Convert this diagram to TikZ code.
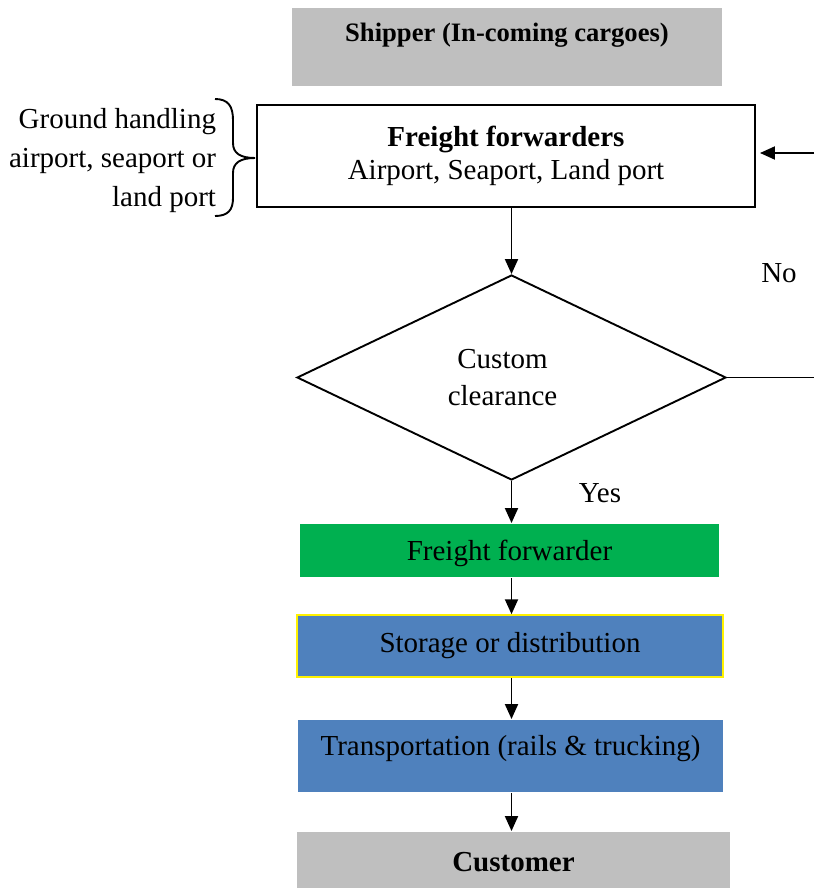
\documentclass[tikz,border=0pt]{standalone}
\usepackage{fontspec}
\setmainfont{Liberation Serif}
\usetikzlibrary{shapes.geometric,arrows.meta}
\definecolor{boxgray}{HTML}{BFBFBF}
\definecolor{boxgreen}{HTML}{00B050}
\definecolor{boxblue}{HTML}{4F81BD}
\begin{document}
\begin{tikzpicture}[x=1pt,y=-1pt,
  every node/.style={font=\fontsize{29}{37}\selectfont},
  line width=1.9pt,
  arr/.style={-{Triangle[length=15pt,width=13pt]}},
  box/.style={rectangle, inner sep=0pt, align=center}]
\useasboundingbox (0,0) rectangle (814,888);

\node[box, fill=boxgray, minimum width=430pt, text height=34pt, text depth=44pt, font=\fontsize{26.6}{32}\selectfont] (ship) at (507,47) {\textbf{Shipper (In-coming cargoes)}};
\node[box, draw, minimum width=498pt, minimum height=102pt] (ff) at (506,156) {\textbf{Freight forwarders}\\[-4pt]Airport, Seaport, Land port};
\node[align=right, anchor=east, inner sep=0pt, font=\fontsize{29}{39}\selectfont] (gh) at (217,161) {Ground handling\\airport, seaport or\\land port};
\draw (215,99) .. controls (228,99) and (233,106) .. (233,120) -- (233,143)
      .. controls (233,153) and (240,158) .. (255,158)
      .. controls (240,158) and (233,163) .. (233,173) -- (233,198)
      .. controls (233,210) and (228,216) .. (215,216);

\node[diamond, draw, minimum width=429pt, minimum height=205pt, inner sep=0pt,
  label={[align=center, xshift=-9pt]center:Custom\\clearance}] (cc) at (511.5,377.5) {};

\node[box, fill=boxgreen, minimum width=419pt, text height=36pt, text depth=17pt] (gf) at (509.5,550.5) {Freight forwarder};
\node[box, fill=boxblue, draw=yellow, line width=1.5pt, minimum width=426pt, text height=37pt, text depth=25pt] (st) at (510,646) {Storage or distribution};
\node[box, fill=boxblue, minimum width=425pt, text height=35pt, text depth=37pt] (tr) at (510.5,756) {Transportation (rails \& trucking)};
\node[box, fill=boxgray, minimum width=433pt, text height=39pt, text depth=17pt] (cu) at (513.5,860) {\textbf{Customer}};

\node (no) at (779,273) {No};
\node (yes) at (600,493) {Yes};

\coordinate (r1) at (814,377.5);
\coordinate (r2) at (814,153);
\draw[arr] (cc.north |- ff.south) -- (cc.north);
\draw[arr] (cc.south) -- (cc.south |- gf.north);
\draw[arr] (cc.south |- gf.south) -- (cc.south |- st.north);
\draw[arr] (cc.south |- st.south) -- (cc.south |- tr.north);
\draw[arr] (cc.south |- tr.south) -- (cc.south |- cu.north);
\draw (cc.east) -- (r1);
\draw[arr, shorten >=4pt] (r2) -- (ff.east |- r2);
\end{tikzpicture}
\end{document}
